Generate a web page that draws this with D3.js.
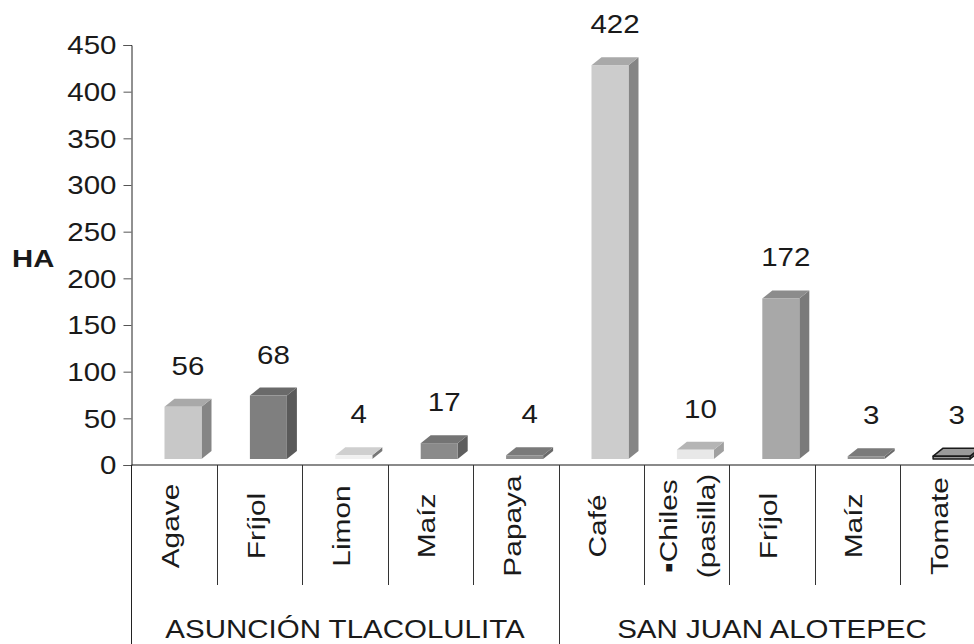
<!DOCTYPE html>
<html>
<head>
<meta charset="utf-8">
<script src="https://cdn.jsdelivr.net/npm/d3@7"></script>
<style>
  body { margin: 0; background: #fff; }
  svg { display: block; font-family: "Liberation Sans", Arial, sans-serif; }
</style>
</head>
<body>
<svg width="974" height="644"></svg>
<script>
// data
var groups = ["ASUNCIÓN TLACOLULITA", "SAN JUAN ALOTEPEC"];
var crops = ["Agave", "Fríjol", "Limon", "Maíz", "Papaya", "Café", "▪Chiles (pasilla)", "Fríjol", "Maíz", "Tomate"];
var cropGroup = [0, 0, 0, 0, 0, 1, 1, 1, 1, 1];
var hectares = [56, 68, 4, 17, 4, 422, 10, 172, 3, 3];
var yTicks = [0, 50, 100, 150, 200, 250, 300, 350, 400, 450];

// grey shades per bar: front, top, side
var frontFill = ["#c8c8c8", "#7f7f7f", "#f0f0f0", "#8a8a8a", "#8e8e8e", "#cccccc", "#e8e8e8", "#a8a8a8", "#8f8f8f", "#999999"];
var topFill   = ["#a9a9a9", "#6a6a6a", "#cfcfcf", "#747474", "#7a7a7a", "#a9a9a9", "#b5b5b5", "#8c8c8c", "#7a7a7a", "#9a9a9a"];
var sideFill  = ["#858585", "#5a5a5a", "#777777", "#5e5e5e", "#6a6a6a", "#858585", "#a0a0a0", "#7a7a7a", "#6a6a6a", "#666666"];

var svg = d3.select("svg");
var axisX = 131.5;
var depthX = 10, depthY = 8, floorLift = 6;
var textStretch = 1.18;
var ink = "#1a1a1a";

var xScale = d3.scaleBand()
               .domain(d3.range(crops.length))
               .range([axisX, axisX + 85.4 * crops.length])
               .padding(0);
var step = xScale.step();

var yScale = d3.scaleLinear()
               .domain([0, 450])
               .range([465, 45]);

// floor line, category separators and group separators
svg.append("line")
    .attr("x1", axisX).attr("x2", 1000)
    .attr("y1", yScale(0)).attr("y2", yScale(0))
    .attr("stroke", "#8a8a8a").attr("stroke-width", 2);

d3.range(1, crops.length + 1).forEach(function(i) {
  var x = Math.round(xScale(0) + i * step) + 0.5;
  var groupEdge = i < crops.length && cropGroup[i] !== cropGroup[i - 1];
  svg.append("line")
      .attr("x1", x).attr("x2", x)
      .attr("y1", yScale(0)).attr("y2", groupEdge ? 644 : 585)
      .attr("stroke", "#333").attr("stroke-width", 1);
});

// y axis
var yAxis = d3.axisLeft(yScale).tickValues(yTicks).tickSize(8).tickPadding(0);
var yg = svg.append("g")
    .attr("transform", "translate(" + axisX + ",0)")
    .call(yAxis);
yg.select(".domain").attr("stroke", "#222");
yg.selectAll(".tick line").attr("stroke", "#555");
yg.selectAll(".tick text")
    .attr("x", 0).attr("dy", "0.35em")
    .attr("transform", "translate(-15,0) scale(" + textStretch + ",1)")
    .attr("font-size", 25)
    .attr("font-family", "Liberation Sans, Arial, sans-serif")
    .attr("fill", ink);

svg.append("line")
    .attr("x1", axisX).attr("x2", axisX)
    .attr("y1", yScale(0)).attr("y2", 644)
    .attr("stroke", "#222");

svg.append("text")
    .attr("transform", "translate(12,267) scale(1.22,1)")
    .attr("font-size", 24)
    .attr("font-weight", "bold")
    .attr("fill", ink)
    .text("HA");

// 3D bars
var bars = svg.selectAll("g.bar")
  .data(hectares)
  .enter()
  .append("g")
    .attr("class", "bar");

function frontLeft(i) { return xScale(i) + 33; }
var frontW = 37;
function frontTop(d) { return yScale(d) - floorLift; }
var frontBottom = yScale(0) - floorLift;

bars.append("path")
    .attr("d", function(d, i) {
      var x = frontLeft(i) + frontW, t = frontTop(d);
      return "M" + x + "," + t + "L" + (x + depthX) + "," + (t - depthY) +
             "L" + (x + depthX) + "," + (frontBottom - depthY) + "L" + x + "," + frontBottom + "Z";
    })
    .attr("fill", (d, i) => sideFill[i]);

bars.append("path")
    .attr("d", function(d, i) {
      var x = frontLeft(i), t = frontTop(d);
      return "M" + x + "," + t + "L" + (x + depthX) + "," + (t - depthY) +
             "L" + (x + frontW + depthX) + "," + (t - depthY) + "L" + (x + frontW) + "," + t + "Z";
    })
    .attr("fill", (d, i) => topFill[i]);

bars.append("rect")
    .attr("x", (d, i) => frontLeft(i))
    .attr("y", d => frontTop(d))
    .attr("width", frontW)
    .attr("height", d => Math.max(frontBottom - frontTop(d), 1))
    .attr("fill", (d, i) => frontFill[i]);

// the last bar has a dark outline
bars.filter((d, i) => i === crops.length - 1)
    .selectAll("path, rect")
    .attr("stroke", "#1a1a1a")
    .attr("stroke-width", 1.5)
    .attr("stroke-linejoin", "round");

// value labels
bars.append("text")
    .attr("transform", function(d, i) {
      var x = frontLeft(i) + frontW / 2 + depthX / 2;
      return "translate(" + x + "," + (frontTop(d) - 32) + ") scale(" + textStretch + ",1)";
    })
    .attr("text-anchor", "middle")
    .attr("font-size", 25)
    .attr("fill", ink)
    .text(d => d);

// rotated category labels
crops.forEach(function(name, i) {
  var lines = name.split(" ");
  var cx = xScale(i) + step / 2;
  var shift = lines.length > 1 ? 9 : 5;
  lines.forEach(function(line, j) {
    var bx = cx + shift + (j - (lines.length - 1) / 2) * 38;
    svg.append("text")
        .attr("transform", "translate(" + bx + ",526) rotate(-90) scale(1.22,1)")
        .attr("text-anchor", "middle")
        .attr("font-size", 24.5)
        .attr("fill", ink)
        .text(line);
  });
});

// group labels
groups.forEach(function(g, k) {
  var idx = d3.range(crops.length).filter(i => cropGroup[i] === k);
  var x0 = xScale(idx[0]), x1 = xScale(idx[idx.length - 1]) + step;
  svg.append("text")
      .attr("transform", "translate(" + ((x0 + x1) / 2) + ",638) scale(" + textStretch + ",1)")
      .attr("text-anchor", "middle")
      .attr("font-size", 25)
      .attr("fill", ink)
      .text(g);
});
</script>
</body>
</html>
